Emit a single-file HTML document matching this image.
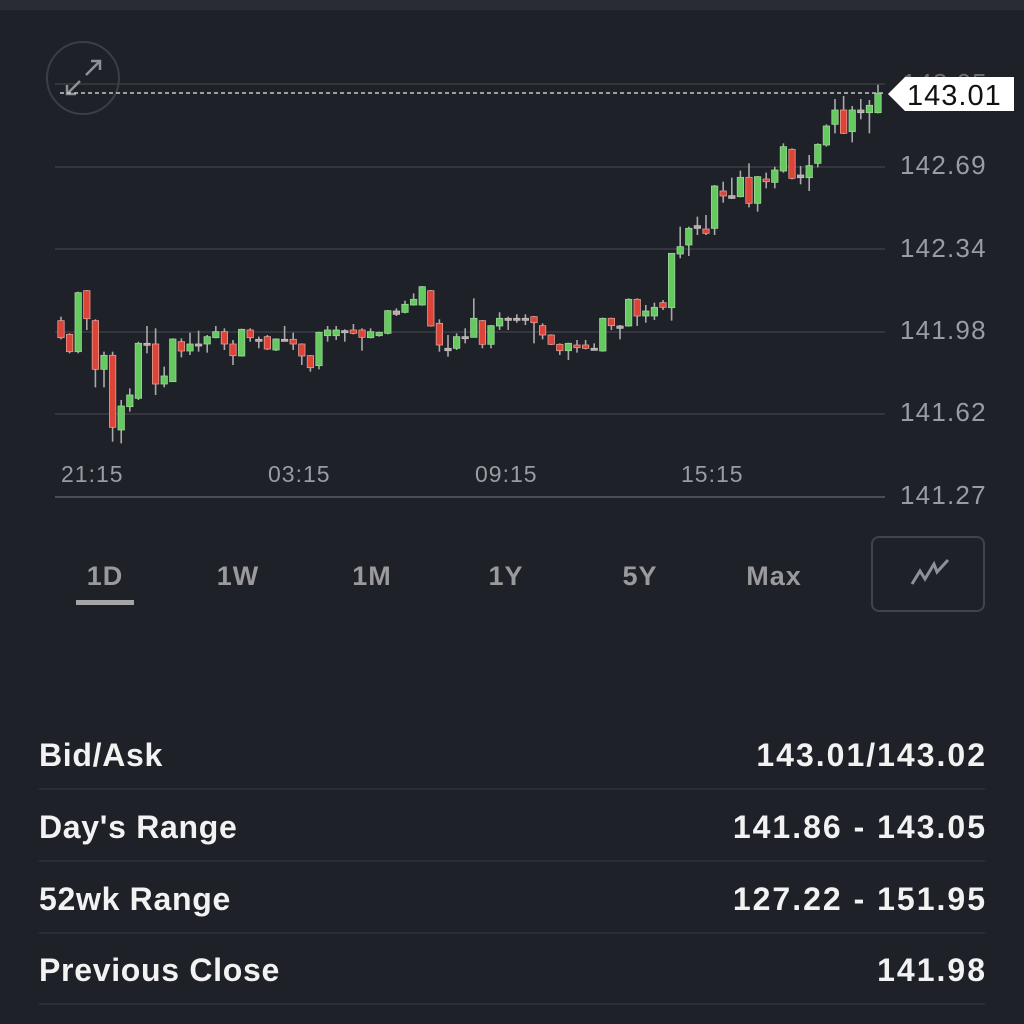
<!DOCTYPE html>
<html><head><meta charset="utf-8"><style>
body{margin:0;width:1024px;height:1024px;background:#1f2128;overflow:hidden;font-family:"Liberation Sans",sans-serif;}
svg{position:absolute;left:0;top:0}
</style></head><body>
<svg width="1024" height="1024" xmlns="http://www.w3.org/2000/svg" id="s">
<rect x="0" y="0" width="1024" height="10" fill="#292c34"/>
<g stroke="#3a3d44" stroke-width="1.5">
<line x1="55" y1="84" x2="885" y2="84"/>
<line x1="55" y1="167" x2="885" y2="167"/>
<line x1="55" y1="249" x2="885" y2="249"/>
<line x1="55" y1="332" x2="885" y2="332"/>
<line x1="55" y1="414" x2="885" y2="414"/>
</g>
<line x1="55" y1="497" x2="885" y2="497" stroke="#5a5d64" stroke-width="1.5"/>
<circle cx="83" cy="78" r="36" fill="none" stroke="#3b3e46" stroke-width="2"/>
<g stroke="#8d9096" stroke-width="2.5" fill="none">
<path d="M86 75 L100 61 M91 61 H100 V70"/><path d="M80 81 L67 94 M67 85 V94 H76"/>
</g>
<line x1="60" y1="93" x2="885" y2="93" stroke="#c8c8c8" stroke-width="1.5" stroke-dasharray="4,3"/>
<g id="c"></g>
<text x="902" y="92" font-size="26" fill="#6a6c72" letter-spacing="1">143.05</text>
<path d="M888 94 L905 77 H1014 V111 H905 Z" fill="#fff"/>
<text x="907" y="105" font-size="29" fill="#111" letter-spacing="1">143.01</text>
<g font-size="26" fill="#9a9ca3" letter-spacing="1.2">
<text x="900" y="174">142.69</text><text x="900" y="257">142.34</text>
<text x="900" y="339">141.98</text><text x="900" y="421">141.62</text>
<text x="900" y="504">141.27</text>
</g>
<g font-size="23" fill="#9a9ca3" letter-spacing="1">
<text x="61" y="482">21:15</text><text x="268" y="482">03:15</text>
<text x="475" y="482">09:15</text><text x="681" y="482">15:15</text>
</g>
<g font-size="27" font-weight="bold" fill="#9a9a9c" text-anchor="middle" letter-spacing="1">
<text x="105" y="585">1D</text><text x="238" y="585">1W</text><text x="372" y="585">1M</text>
<text x="506" y="585">1Y</text><text x="640" y="585">5Y</text><text x="774" y="585">Max</text>
</g>
<rect x="76" y="600" width="58" height="5" fill="#a5a5a5"/>
<rect x="872" y="537" width="112" height="74" rx="7" fill="none" stroke="#41444b" stroke-width="2"/>
<path d="M912 584 L920 571 L925 579 L934 564 L937 572 L948 560" fill="none" stroke="#8d9096" stroke-width="3"/>
<g font-size="32" font-weight="bold" fill="#f2f2f2" letter-spacing="0.7">
<text x="39" y="766">Bid/Ask</text><text x="39" y="838">Day's Range</text>
<text x="39" y="910">52wk Range</text><text x="39" y="981">Previous Close</text>
</g>
<g font-size="32" font-weight="bold" fill="#f2f2f2" text-anchor="end" letter-spacing="2">
<text x="987" y="766">143.01/143.02</text><text x="987" y="838">141.86 - 143.05</text>
<text x="987" y="910">127.22 - 151.95</text><text x="987" y="981">141.98</text>
</g>
<g stroke="#30333a" stroke-width="1.5">
<line x1="39" y1="789" x2="985" y2="789"/><line x1="39" y1="861" x2="985" y2="861"/>
<line x1="39" y1="933" x2="985" y2="933"/><line x1="39" y1="1004" x2="985" y2="1004"/>
</g>
</svg>
<script>
var A=[["r",152,203,140,208],["r",193,245,190,250],["g",68,245,65,250],["r",62,146,60,180],["r",152,298,148,352],["g",256,298,245,352],["r",256,472,245,515],["g",408,480,390,520],["g",375,410,355,425],["g",220,385,215,390],["d",220,222,168,250],["r",222,342,175,375],["g",318,342,290,352],["g",207,335,205,335],["r",215,243,205,262],["g",222,243,188,255],["d",222,224,182,245],["g",200,222,195,248],["g",185,203,168,205],["r",185,222,175,240],["r",222,257,210,285],["g",178,258,176,260],["r",180,203,175,215],["d",208,210,200,235],["r",200,237,195,240],["g",207,240,205,243],["d",208,210,168,212],["r",208,222,188,240],["r",222,258,220,285],["r",257,293,255,305],["g",187,287,185,298],["g",180,197,168,215],["g",180,197,168,210],["d",182,184,178,215],["r",180,190,162,193],["r",180,202,175,242],["g",185,203,175,205],["g",187,197,185,200],["g",122,190,120,193],["d",123,133,115,138],["g",103,127,92,130],["g",88,105,70,107]];
var C=[["g",620,675,618,677],["r",632,738,630,740],["r",730,795,718,815],["d",805,812,765,830],["g",770,805,760,810],["d",770,772,745,790],["g",715,772,655,772],["r",722,793,720,805],["g",737,793,735,805],["g",715,738,697,750],["d",715,717,710,750],["d",715,717,703,728],["d",715,717,703,735],["r",710,728,708,790],["r",737,765,730,778],["r",765,793,763,795],["r",793,812,790,825],["g",790,812,788,840],["r",795,803,780,818],["r",795,805,780,808],["d",805,807,790,808],["g",715,813,713,815],["r",715,737,713,750],["d",738,745,735,778],["g",658,738,655,740],["r",658,708,655,738],["g",693,708,675,728],["g",682,708,668,720],["r",668,682,660,690],["g",520,683,520,722],["g",500,522,440,535],["g",445,495,440,528],["d",437,445,410,465],["r",447,460,405,465],["g",318,445,315,465],["r",333,348,305,368],["d",347,355,293,357],["g",292,350,272,352],["r",292,370,250,382],["g",290,370,288,395],["r",297,305,278,325],["g",270,307,260,325],["g",200,273,190,278],["r",208,295,205,298],["d",285,293,258,313],["g",257,293,225,333],["g",193,250,190,262],["g",138,195,133,200],["g",90,133,57,160],["r",90,160,48,162],["g",90,155,78,187],["d",90,98,57,118],["g",76,98,60,160],["g",40,98,14,100]];
var s="",all=[];
A.forEach(function(a){all.push([a[0],270+a[1]/3,270+a[2]/3,270+a[3]/3,270+a[4]/3]);});
C.forEach(function(a){all.push([a[0],80+a[1]/3,80+a[2]/3,80+a[3]/3,80+a[4]/3]);});
all.forEach(function(a,i){var x=61+i*8.6;
var f=a[0]=="g"?"#66c95f":a[0]=="r"?"#dc4438":"#b9a9a9";
var st=a[0]=="g"?"#9ad694":a[0]=="r"?"#e49c95":"#c8c0c0";
s+='<line x1="'+x+'" y1="'+a[3]+'" x2="'+x+'" y2="'+a[4]+'" stroke="#a9a9ab" stroke-width="1.6"/>';
var h=Math.max(a[2]-a[1],2);
s+='<rect x="'+(x-3.2)+'" y="'+a[1]+'" width="6.4" height="'+h+'" fill="'+f+'" stroke="'+st+'" stroke-width="0.8"/>';});
document.getElementById("c").innerHTML=s;
</script>
</body></html>
